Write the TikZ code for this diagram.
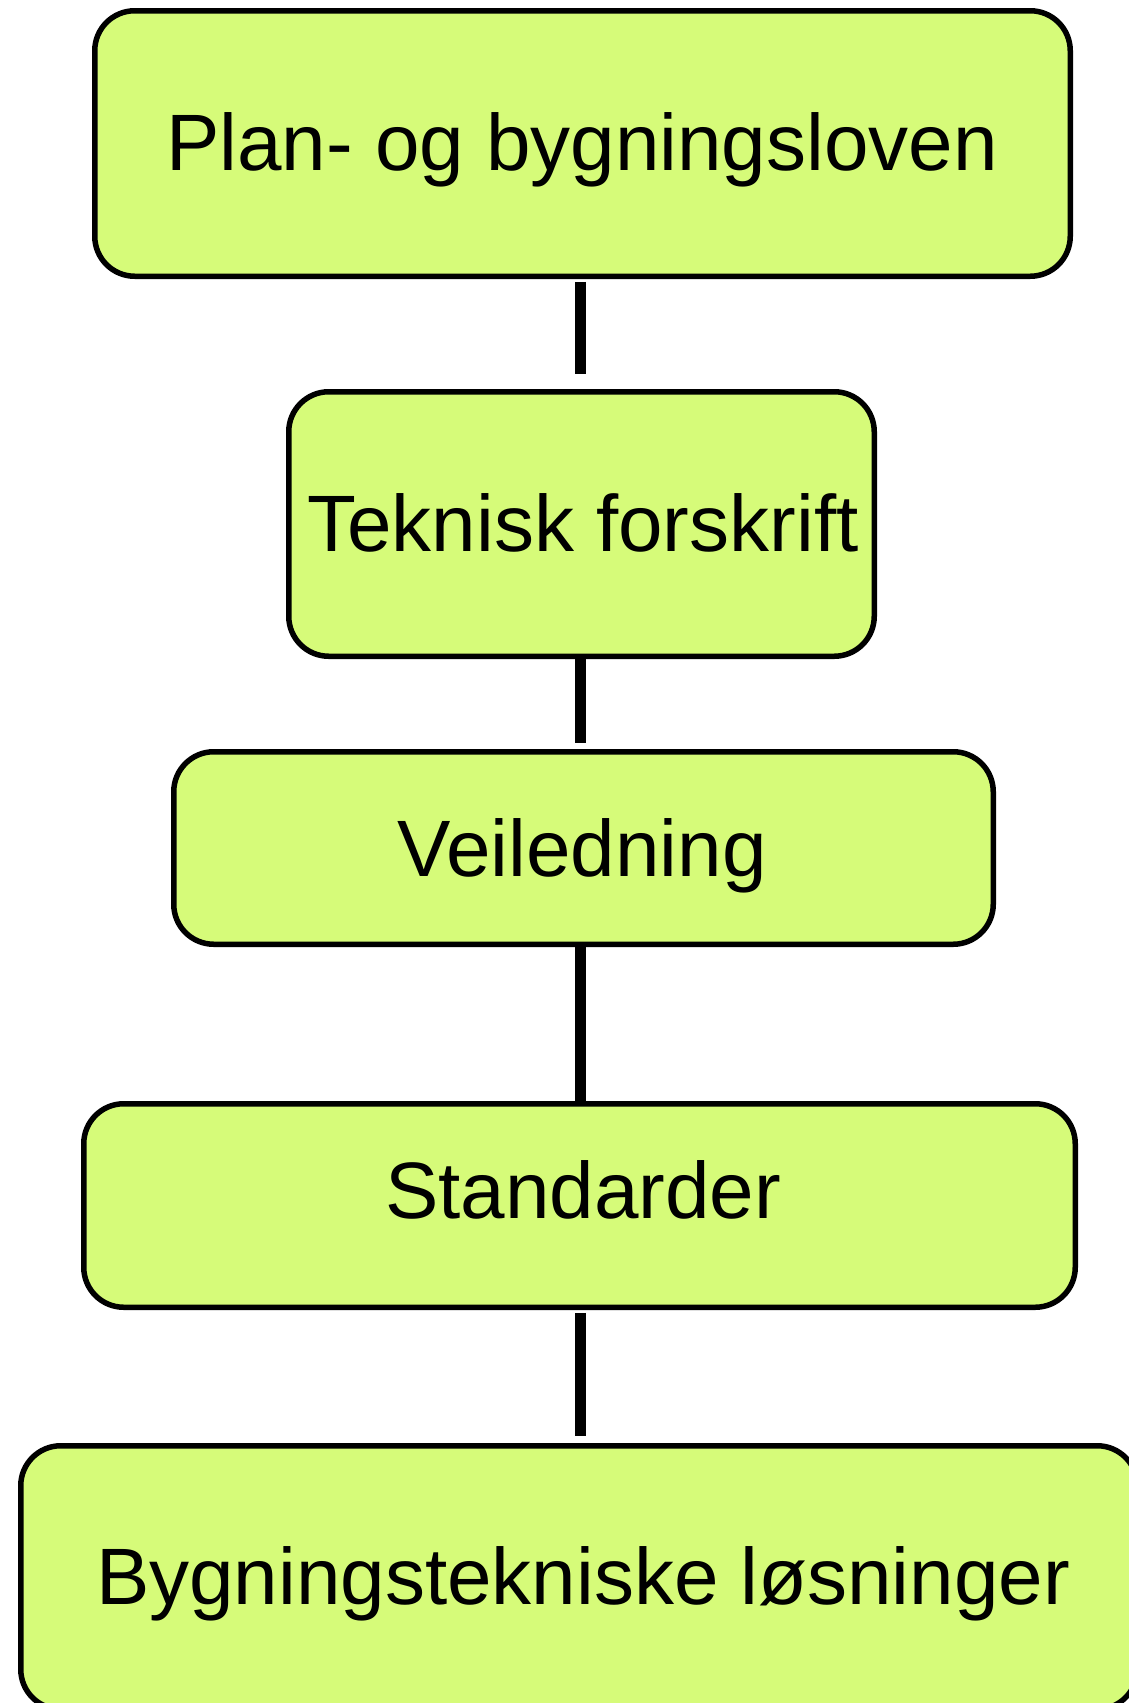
\documentclass[tikz,border=0pt]{standalone}
\usepackage{fontspec}
\setmainfont{Liberation Sans}
\definecolor{boxfill}{RGB}{214,251,121}
\begin{document}
\begin{tikzpicture}[x=1pt,y=-1pt,
  box/.style={draw=black, line width=5.5pt, fill=boxfill, rounded corners=40pt, rectangle, inner sep=0pt},
  lbl/.style={anchor=base, inner sep=0pt, font=\fontsize{80}{96}\selectfont},
  conn/.style={draw=black, line width=11pt}]
\useasboundingbox (0,0) rectangle (1129,1703);
\clip (0,0) rectangle (1129,1703);
\fill[white] (0,0) rectangle (1129,1703);
\coordinate (axis) at (580.5,0);
\node[box, minimum width=975.5pt, minimum height=265.5pt] (b1) at (582.5,143.5) {};
\node[box, minimum width=585.5pt, minimum height=264.5pt] (b2) at (581.5,524) {};
\node[box, minimum width=819.5pt, minimum height=192.5pt] (b3) at (583.5,848) {};
\node[box, minimum width=991.5pt, minimum height=203.5pt] (b4) at (579.5,1205.5) {};
\node[box, minimum width=1116.5pt, minimum height=263.5pt] (b5) at (579,1577.5) {};
\node[lbl] (t1) at (582,170) {Plan- og bygningsloven};
\node[lbl] (t2) at (583,551) {Teknisk forskrift};
\node[lbl] (t3) at (582,876) {Veiledning};
\node[lbl] (t4) at (583,1218) {Standarder};
\node[lbl] (t5) at (583,1604) {Bygningstekniske løsninger};
\draw[conn] ([yshift=-2.75pt]axis |- b1.south) -- ([yshift=14.75pt]axis |- b2.north);
\draw[conn] ([yshift=3.25pt]axis |- b2.south) -- ([yshift=5.75pt]axis |- b3.north);
\draw[conn] (axis |- b3.south) -- (axis |- b4.north);
\draw[conn] ([yshift=-2.75pt]axis |- b4.south) -- ([yshift=6.75pt]axis |- b5.north);
\end{tikzpicture}
\end{document}
